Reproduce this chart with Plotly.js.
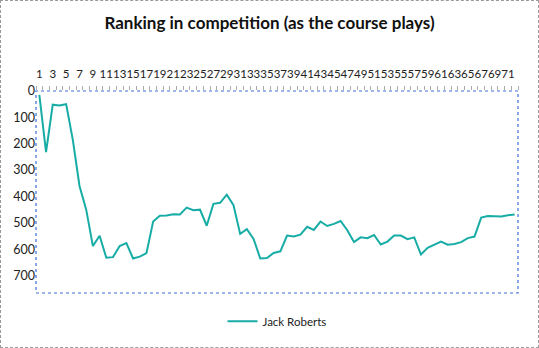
<!DOCTYPE html>
<html><head><meta charset="utf-8">
<script src="https://cdn.plot.ly/plotly-3.0.1.min.js"></script>
<style>
html,body{margin:0;padding:0;background:#fff;}
#wrap{position:relative;width:539px;height:348px;}
#chart{position:absolute;left:0;top:0;width:539px;height:348px;}
#frame{position:absolute;left:0;top:0;width:537px;height:346px;border:1px dashed #9a9a9a;pointer-events:none;}
</style></head>
<body>
<div id="wrap"><div id="chart"></div><div id="frame"></div></div>
<script>
const holes = Array.from({length:72},(_,i)=>i+1);
const ranking = [15,232,52,55,50,185,360,450,588,549,632,630,588,577,635,628,615,495,473,472,467,468,442,452,450,511,428,424,393,433,542,524,561,635,633,614,608,548,552,545,515,527,495,512,504,493,528,573,555,558,546,582,571,548,548,562,555,620,595,582,571,583,580,573,558,552,480,474,476,476,471,468];
const labelVals = holes.filter(h=>h%2===1);
const seriesName = 'Jack Roberts';

const trace = {x:holes,y:ranking,type:'scatter',mode:'lines',name:seriesName,
  line:{color:'#17ada6',width:2},xaxis:'x',yaxis:'y'};
const tickTrace = {x:[0.5],y:[0],type:'scatter',mode:'none',showlegend:false,hoverinfo:'skip',xaxis:'x2',yaxis:'y'};

const layout = {
  width:539,height:348,
  margin:{l:36,r:21,t:91,b:51},
  paper_bgcolor:'#fff',plot_bgcolor:'#fff',
  font:{family:'Lato, Carlito, sans-serif',color:'#222',size:11},
  title:{text:'<b>Ranking in competition (as the course plays)</b>',x:0.5,xanchor:'center',y:0.935,yanchor:'middle',
    font:{family:'Lato, Carlito, sans-serif',size:17,color:'#111'}},
  xaxis:{side:'top',range:[0.5,72.5],tickmode:'array',tickvals:labelVals,ticktext:labelVals.map(String),
    tickangle:0,ticks:'',ticklabelstandoff:10,showgrid:false,zeroline:false,showline:false,tickfont:{size:11.5},automargin:false},
  xaxis2:{overlaying:'x',side:'top',range:[0.5,72.5],tickmode:'linear',tick0:0.5,dtick:1,
    ticks:'outside',ticklen:4,tickcolor:'#aaa',tickwidth:1,showticklabels:false,showgrid:false,zeroline:false,showline:false},
  yaxis:{range:[766,0],tickmode:'array',tickvals:[0,100,200,300,400,500,600,700],
    showgrid:false,zeroline:false,showline:false,ticks:'',tickfont:{size:12.5},automargin:false},
  shapes:[{type:'rect',xref:'paper',yref:'paper',x0:0,x1:1,y0:0,y1:1,
    line:{color:'#3f6fd6',width:1.2,dash:'dot'}}],
  showlegend:true,
  legend:{orientation:'h',x:0.5,xanchor:'center',y:-0.14,yanchor:'middle',font:{size:11.5,color:'#222'}}
};
Plotly.newPlot('chart',[trace,tickTrace],layout,{displayModeBar:false,staticPlot:true});
</script>
</body></html>
